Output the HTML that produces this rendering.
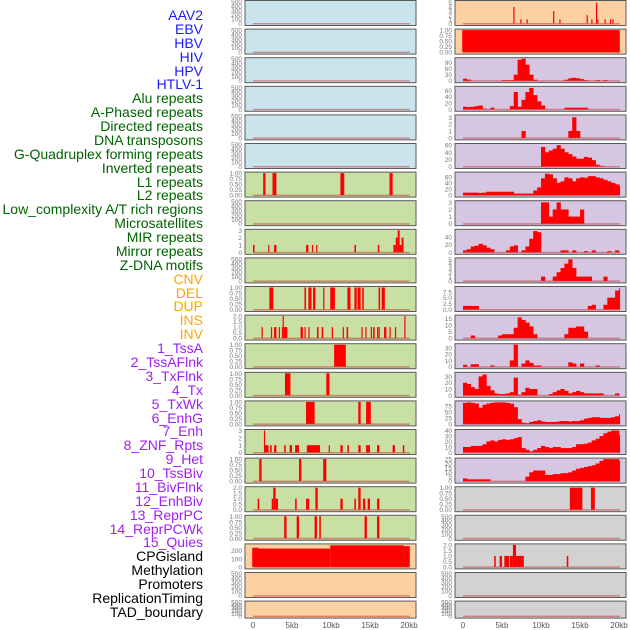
<!DOCTYPE html>
<html><head><meta charset="utf-8">
<style>
html,body{margin:0;padding:0;background:#fff;}
body{width:630px;height:630px;overflow:hidden;position:relative;font-family:"Liberation Sans",sans-serif;}
#labels div{position:absolute;right:427px;font-size:14px;line-height:14px;white-space:nowrap;}
svg{position:absolute;left:0;top:0;}
</style></head>
<body>
<div id="labels"></div>
<svg id="chart" width="630" height="630"></svg>
<script>
// ---- label data ----
const labelNames = ["AAV2","EBV","HBV","HIV","HPV","HTLV-1","Alu repeats","A-Phased repeats","Directed repeats","DNA transposons","G-Quadruplex forming repeats","Inverted repeats","L1 repeats","L2 repeats","Low_complexity A/T rich regions","Microsatellites","MIR repeats","Mirror repeats","Z-DNA motifs","CNV","DEL","DUP","INS","INV","1_TssA","2_TssAFlnk","3_TxFlnk","4_Tx","5_TxWk","6_EnhG","7_Enh","8_ZNF_Rpts","9_Het","10_TssBiv","11_BivFlnk","12_EnhBiv","13_ReprPC","14_ReprPCWk","15_Quies","CPGisland","Methylation","Promoters","ReplicationTiming","TAD_boundary"];
const labelGroups = [0,0,0,0,0,0,1,1,1,1,1,1,1,1,1,1,1,1,1,2,2,2,2,2,3,3,3,3,3,3,3,3,3,3,3,3,3,3,3,4,4,4,4,4];
const groupColors = ["#1a1aff","#006400","#ffa500","#a020f0","#000000"];

// ---- x axis ----
const xTicks = [0,5,10,15,20];
const xTickLabels = ["0","5kb","10kb","15kb","20kb"];

// ---- tick sets ----
const t500 = [0,100,200,300,400,500];
const t1 = [0,0.25,0.5,0.75,1];
const t3 = [0,1,2,3];
const t2 = [0,0.5,1,1.5,2];

// ---- left column bar data [startKb,endKb,value] ----
const l6Bars = [[1.3,1.6,1],[2.5,3.0,1],[11.2,11.7,1],[17.5,17.9,1]];
const l8Bars = [[0,0.2,1],[1.95,2.1,1],[2.7,3.0,1],[6.8,7.1,1],[7.55,7.7,1],[8.1,8.25,1],[13.0,13.2,1],[16.0,16.2,1],[18.0,18.3,1],[18.3,18.55,2],[18.55,18.8,3],[18.8,19.05,1],[19.05,19.3,2]];
const l10Bars = [[2.1,2.6,1],[6.6,6.8,1],[7.1,7.5,1],[7.7,8.0,1],[9.0,9.12,1],[9.9,10.5,1],[12.1,12.5,1],[13.0,13.3,1],[13.4,13.8,1],[14.0,14.2,1],[16.1,16.3,1],[16.5,16.9,1]];
const l11Bars = [[1.1,1.25,1],[2.3,2.45,1],[2.7,3.0,1],[3.3,3.45,1],[3.7,3.8,1],[3.8,3.95,2],[3.95,4.4,1],[6.1,6.4,1],[6.6,6.75,1],[7.1,7.25,1],[8.2,8.4,1],[8.8,9.0,1],[10.1,10.25,1],[11.5,11.65,1],[12.0,12.2,1],[13.9,14.05,1],[14.4,14.55,1],[15.1,15.25,1],[15.4,15.6,1],[15.9,16.0,1],[16.1,16.25,1],[16.8,17.1,1],[17.5,17.65,1],[18.2,18.35,1],[19.4,19.55,2]];
const l12Bars = [[10.4,11.9,1]];
const l13Bars = [[4.1,4.8,1],[9.4,9.8,1]];
const l14Bars = [[6.8,7.9,1],[13.5,13.8,1],[14.5,15.1,1]];
const l15Bars = [[1.4,1.5,3],[1.5,2.0,1],[2.2,2.4,1],[2.7,3.0,1],[4.0,4.2,1],[4.7,5.0,1],[5.4,5.9,1],[6.9,8.6,1],[9.7,9.85,1],[11.2,11.5,1],[12.1,12.3,1],[13.5,13.8,1],[14.5,15.0,1],[15.9,16.2,1],[17.9,18.2,1],[19.2,19.4,1]];
const l16Bars = [[0.8,1.1,1],[5.9,6.2,1],[9.0,9.4,1]];
const l17Bars = [[0.6,0.8,1],[2.4,2.6,1],[2.6,2.9,2],[2.9,3.2,1],[5.4,5.6,1],[6.8,7.2,1],[8.0,8.3,2],[11.2,11.5,1],[13.0,13.2,1],[13.5,13.8,2],[14.1,14.4,1],[14.7,15.0,1],[15.9,16.2,1]];
const l18Bars = [[4.0,4.3,1],[5.6,5.9,1],[7.9,8.2,1],[8.5,8.7,1],[14.3,14.6,1],[15.9,16.2,1]];
const l19Bars = [[-0.1,0.7,235],[0.7,9.9,225],[9.9,19.3,265],[19.3,20.1,255]];

// ---- right column data ----
const r0Bars = [[6.45,6.6,4],[7.35,7.5,1],[8.15,8.3,1],[11.55,11.7,3],[12.35,12.5,1],[15.85,16.0,2],[16.45,16.6,1],[17.05,17.15,5],[17.2,17.35,1],[18.15,18.3,1],[18.85,19.0,1],[19.15,19.3,1]];
const r1Bars = [[-0.1,20.1,1]];
const r2Bins = [10,5,0,0,0,0,0,0,0,0,3,3,3,30,105,110,80,30,5,0,0,0,0,0,0,0,5,12,15,12,8,3,0,0,3,0,3,0,0,0,0];
const r3Bins = [8,7,8,10,12,2,0,5,0,0,0,0,10,55,8,30,55,68,45,25,12,0,0,0,0,0,5,5,5,5,5,5,0,0,0,0,0,0,0,0,0];
const r4Bins = [0,0,0,0,0,0,0,0,0,0,0,0,0,0,0,1,0,0,0,0,0,0,0,0,0,0,0,1,3,1,0,0,0,0,0,0,0,0,0,0,0];
const r5Bins = [0,0,0,0,0,0,0,0,0,0,0,0,0,0,0,0,0,0,0,0,55,40,45,50,60,50,40,35,28,22,22,27,25,18,5,2,0,0,0,0,0];
const r6Bins = [8,8,8,8,7,8,11,11,11,11,11,11,11,5,5,5,5,5,15,25,55,70,68,55,40,45,58,55,45,55,58,57,62,62,58,55,50,45,40,35,30];
const r7Bins = [0,0,0,0,0,0,0,0,0,0,0,0,0,0,0,0,0,0,0,0,3,3,1,2,3,2,2,1,1,1,2,0,0,0,0,0,0,0,0,0,0];
const r8Bins = [5,8,15,17,22,18,12,8,0,0,0,5,15,18,0,5,15,35,55,52,0,0,0,0,0,5,5,0,5,0,0,3,0,5,0,0,0,3,0,5,0];
const r9Bins = [0,0,0,0,0,0,0,0,0,0,0,0,0,0,0,0,0,0,0,0,1,0,0,1,2,3,4,5,3,1,1,1,1,0,0,0,1,0,0,0,0];
const r10Bins = [1.5,1.5,1.5,1.5,0,0,0,0,0,0,0,0,0,0,0,0,0,0,0,0,0,0,0,0,0,0,0,0,0,0,0,0,1.5,2,0,0,2,5,5,8,9];
const r11Bins = [0,0,2,0,0,0,0,0,0,2,3,3,3,8,16,14,12,9,3,0,0,0,0,0,0,0,3,8,8,9,9,5,0,0,0,0,0,0,0,0,0];
const r12Bins = [3,0,4,4,0,0,0,2,0,0,0,0,10,35,0,5,10,6,2,2,0,0,0,0,0,0,0,7,5,0,5,0,0,0,2,0,0,0,0,0,0];
const r13Bins = [20,18,13,10,30,33,15,8,3,2,2,3,5,28,1,5,12,10,10,0,0,0,2,5,8,10,7,3,5,7,5,3,3,3,3,3,0,0,0,3,0];
const r14Bins = [88,90,88,85,68,80,85,88,90,90,90,88,85,70,20,5,3,8,12,15,10,8,8,8,10,12,12,10,12,12,15,22,25,28,28,25,25,25,28,32,40];
const r15Bins = [10,10,12,12,12,15,20,22,20,23,24,23,24,26,28,8,5,2,5,8,12,10,8,10,10,8,8,8,10,15,15,16,18,22,25,30,35,38,40,40,32];
const r16Bins = [3,2,2,2,2,2,2,0,0,0,0,0,0,0,0,0,5,10,12,12,12,7,7,8,8,9,9,10,12,14,15,16,17,18,20,23,25,25,25,25,23];
const r17Bars = [[13.7,15.3,1],[16.4,16.9,1]];
const r19Bars = [[4.0,4.2,1],[4.7,5.0,1],[5.3,5.9,1],[6.0,6.4,1],[6.4,6.8,2],[6.8,7.8,1],[13.3,13.5,1]];

const BLUE="#c9e4ec", GREEN="#c8e0a4", ORANGE="#fdd0a2", PURPLE="#d6c6e2", GRAY="#d2d2d2";

// panel spec: [col,row,bg,ymax,ticks,decimals,bars,bins,name]
const panels = [];
for (let r=0;r<6;r++) panels.push([0,r,BLUE,500,t500,0,null,null]);
panels.push([0,6,GREEN,1,t1,2,l6Bars,null]);
panels.push([0,7,GREEN,500,t500,0,null,null]);
panels.push([0,8,GREEN,3,t3,0,l8Bars,null]);
panels.push([0,9,GREEN,500,t500,0,null,null]);
panels.push([0,10,GREEN,1,t1,2,l10Bars,null]);
panels.push([0,11,GREEN,2,t2,1,l11Bars,null]);
panels.push([0,12,GREEN,1,t1,2,l12Bars,null]);
panels.push([0,13,GREEN,1,t1,2,l13Bars,null]);
panels.push([0,14,GREEN,1,t1,2,l14Bars,null]);
panels.push([0,15,GREEN,3,t3,0,l15Bars,null]);
panels.push([0,16,GREEN,1,t1,2,l16Bars,null]);
panels.push([0,17,GREEN,2,t2,1,l17Bars,null]);
panels.push([0,18,GREEN,1,t1,2,l18Bars,null]);
panels.push([0,19,ORANGE,270,[0,100,200],0,l19Bars,null]);
panels.push([0,20,ORANGE,500,t500,0,null,null]);
panels.push([0,21,ORANGE,500,t500,0,null,null]);

panels.push([1,0,ORANGE,5.3,[0,1,2,3,4,5],0,r0Bars,null]);
panels.push([1,1,ORANGE,1,t1,2,r1Bars,null]);
panels.push([1,2,PURPLE,110,[0,30,60,90],0,null,r2Bins]);
panels.push([1,3,PURPLE,70,[0,20,40,60],0,null,r3Bins]);
panels.push([1,4,PURPLE,3.2,t3,0,null,r4Bins]);
panels.push([1,5,PURPLE,62,[0,20,40,60],0,null,r5Bins]);
panels.push([1,6,PURPLE,72,[0,20,40,60],0,null,r6Bins]);
panels.push([1,7,PURPLE,3.1,t3,0,null,r7Bins]);
panels.push([1,8,PURPLE,57,[0,20,40],0,null,r8Bins]);
panels.push([1,9,PURPLE,5.1,[0,1,2,3,4,5],0,null,r9Bins]);
panels.push([1,10,PURPLE,9.3,[0,2.5,5,7.5],1,null,r10Bins]);
panels.push([1,11,PURPLE,17,[0,5,10,15],0,null,r11Bins]);
panels.push([1,12,PURPLE,35,[0,10,20,30],0,null,r12Bins]);
panels.push([1,13,PURPLE,35,[0,10,20,30],0,null,r13Bins]);
panels.push([1,14,PURPLE,92,[0,25,50,75],0,null,r14Bins]);
panels.push([1,15,PURPLE,40,[0,10,20,30,40],0,null,r15Bins]);
panels.push([1,16,PURPLE,25,[0,5,10,15,20,25],0,null,r16Bins]);
panels.push([1,17,GRAY,1,t1,2,r17Bars,null]);
panels.push([1,18,GRAY,500,t500,0,null,null]);
panels.push([1,19,GRAY,2,t2,1,r19Bars,null]);
panels.push([1,20,GRAY,500,t500,0,null,null]);
panels.push([1,21,GRAY,500,t500,0,null,null]);

// ---- labels ----
const labDiv = document.getElementById('labels');
labelNames.forEach((n,i)=>{
  const d=document.createElement('div');
  
  
  d.style.top=(8+i*13.88)+'px';
  d.style.color=groupColors[labelGroups[i]];
  d.textContent=n;
  labDiv.appendChild(d);
});

const svg=document.getElementById('chart');
const NS="http://www.w3.org/2000/svg";
function mk(tag,attrs){const e=document.createElementNS(NS,tag);for(const k in attrs)e.setAttribute(k,attrs[k]);svg.appendChild(e);return e;}
const colX=[245,455], PW=171;
function panelTop(r){return 0.5+r*28.6;}
function panelH(r){return r===21?17:25;}
function xScale(col,kb){return colX[col]+8+kb*7.8;}

panels.forEach(p=>{
  const [col,row,bg,ymax,ticks,dec,bars,bins]=p;
  const top=panelTop(row), h=panelH(row), left=colX[col];
  const bottom=top+h;
  const yScale=v=>bottom-2-(v/ymax)*(h-3);
  const rect=mk('rect',{x:left,y:top,width:PW,height:h,fill:bg,stroke:'#5a5a5a','stroke-width':1});
  
  
  // baseline
  const bl=mk('rect',{x:xScale(col,0),y:bottom-2.5,width:xScale(col,20.1)-xScale(col,0),height:1.5,fill:'rgba(190,30,30,0.45)'});
  
  
  if(bars){bars.forEach(b=>{
    const x1=xScale(col,b[0]),x2=xScale(col,b[1]);
    const r=mk('rect',{x:x1,y:yScale(b[2]),width:Math.max(1.2,x2-x1),height:yScale(0)-yScale(b[2]),fill:'#ff0000'});
    
    
  });}
  if(bins){bins.forEach((v,i)=>{
    if(v<=0)return;
    const k1=i*0.5,k2=Math.min(20.1,(i+1)*0.5);
    const x1=xScale(col,k1),x2=xScale(col,k2);
    const r=mk('rect',{x:x1,y:yScale(v),width:x2-x1+0.3,height:yScale(0)-yScale(v),fill:'#ff0000'});
    
    
  });}
  ticks.forEach(t=>{
    const y=Math.max(top+3,yScale(t)+2.5);
    const tx=mk('text',{x:left-3,y:y,'text-anchor':'end','font-size':6.5,fill:'#777','font-family':'Liberation Sans, sans-serif'});
    
    
    tx.textContent=t.toFixed(dec);
  });
});

// x axes
[0,1].forEach(col=>{
  xTicks.forEach((t,i)=>{
    const tx=mk('text',{x:xScale(col,t),y:628,'text-anchor':'middle','font-size':8,fill:'#555','font-family':'Liberation Sans, sans-serif'});
    
    
    tx.textContent=xTickLabels[i];
  });
});
</script>
</body></html>
